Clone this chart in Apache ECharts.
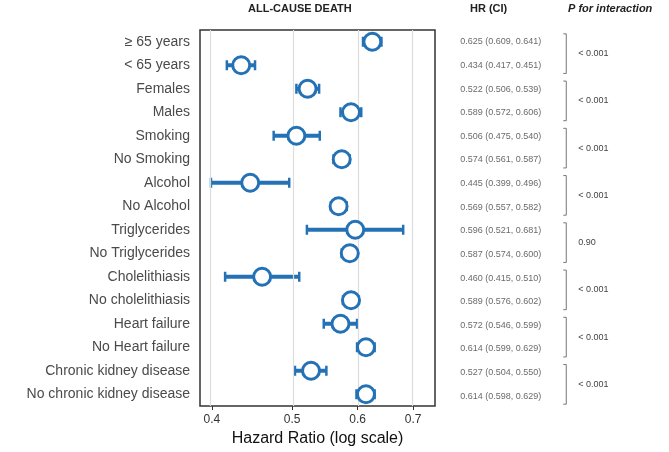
<!DOCTYPE html>
<html><head><meta charset="utf-8">
<script src="https://cdn.jsdelivr.net/npm/echarts@6/dist/echarts.min.js"></script>
<style>html,body{margin:0;padding:0;background:#fff}#c{width:669px;height:452px}</style>
</head><body><div id="c"></div>
<script>
const labels = ['≥ 65 years','< 65 years','Females','Males','Smoking','No Smoking','Alcohol','No Alcohol',
  'Triglycerides','No Triglycerides','Cholelithiasis','No cholelithiasis','Heart failure','No Heart failure',
  'Chronic kidney disease','No chronic kidney disease'];
const hr   = [0.625,0.434,0.522,0.589,0.506,0.574,0.445,0.569,0.596,0.587,0.460,0.589,0.572,0.614,0.527,0.614];
const low  = [0.609,0.417,0.506,0.572,0.475,0.561,0.399,0.557,0.521,0.574,0.415,0.576,0.546,0.599,0.504,0.598];
const high = [0.641,0.451,0.539,0.606,0.540,0.587,0.496,0.582,0.681,0.600,0.510,0.602,0.599,0.629,0.550,0.629];
const pValues = ['< 0.001','< 0.001','< 0.001','< 0.001','0.90','< 0.001','< 0.001','< 0.001'];
const ticks = [0.4,0.5,0.6,0.7];

const blue = '#2472b5';
const ln = Math.log;
const ciText = hr.map((v,i)=>v.toFixed(3)+' ('+low[i].toFixed(3)+', '+high[i].toFixed(3)+')');
const chart = echarts.init(document.getElementById('c'));

chart.setOption({
  animation:false,
  grid:[{left:200,right:234,top:30,bottom:44,show:true,borderColor:'#333',borderWidth:1.5},
        {left:455,right:0,top:30,bottom:44}],
  xAxis:[{type:'value',gridIndex:0,min:ln(0.387),max:ln(0.744),
    axisLine:{show:false},splitLine:{show:false},
    axisTick:{show:true,customValues:ticks.map(ln),length:4,lineStyle:{color:'#333'}},
    axisLabel:{customValues:ticks.map(ln),formatter:v=>String(Math.round(Math.exp(v)*10)/10),color:'#333',fontSize:12,fontFamily:'Liberation Sans'},
    name:'Hazard Ratio (log scale)',nameLocation:'middle',nameGap:25,
    nameTextStyle:{fontSize:16,color:'#111',fontFamily:'Liberation Sans'}},
    {type:'value',gridIndex:1,min:0,max:1,show:false}],
  yAxis:[{type:'category',gridIndex:0,data:labels,inverse:true,
    axisLine:{show:false},axisTick:{show:false},
    axisLabel:{color:'#4a4a4a',fontSize:14,fontFamily:'Liberation Sans',margin:10}},
    {type:'category',gridIndex:1,data:labels,inverse:true,show:false}],
  graphic:[
    {type:'text',left:248,top:3,style:{text:'ALL-CAUSE DEATH',font:'bold 11px Liberation Sans',fill:'#222'}},
    {type:'text',left:470,top:3,style:{text:'HR (CI)',font:'bold 11px Liberation Sans',fill:'#222'}},
    {type:'text',left:568,top:3,style:{text:'P for interaction',font:'italic bold 11px Liberation Sans',fill:'#222'}}
  ],
  series:[
    {type:'line',xAxisIndex:0,yAxisIndex:0,data:[],
     markLine:{silent:true,symbol:['none','none'],label:{show:false},
       lineStyle:{color:'#dddddd',type:'solid',width:1.2},
       data:ticks.map(t=>({xAxis:ln(t)}))}},
    {type:'custom',xAxisIndex:0,yAxisIndex:0,z:3,
     data:hr.map((v,i)=>[ln(low[i]),ln(high[i]),i]),
     renderItem:(p,api)=>{
       const a=api.coord([api.value(0),api.value(2)]);
       const b=api.coord([api.value(1),api.value(2)]);
       const st={stroke:blue,lineWidth:4};
       return {type:'group',children:[
         {type:'line',shape:{x1:a[0],y1:a[1],x2:b[0],y2:b[1]},style:st},
         {type:'line',shape:{x1:a[0],y1:a[1]-5,x2:a[0],y2:a[1]+5},style:{stroke:blue,lineWidth:2.5}},
         {type:'line',shape:{x1:b[0],y1:b[1]-5,x2:b[0],y2:b[1]+5},style:{stroke:blue,lineWidth:2.5}}]};
     }},
    {type:'scatter',xAxisIndex:0,yAxisIndex:0,z:5,symbol:'circle',symbolSize:17,
     itemStyle:{color:'#fff',borderColor:blue,borderWidth:3,opacity:1},
     data:hr.map((v,i)=>[ln(v),i])},
    {type:'scatter',xAxisIndex:1,yAxisIndex:1,symbolSize:0,
     data:ciText.map((t,i)=>({value:[0.02,i],label:{formatter:t}})),
     label:{show:true,position:'right',color:'#444',fontSize:9,fontFamily:'Liberation Sans',offset:[-4,0]}},
    {type:'custom',xAxisIndex:1,yAxisIndex:1,
     data:pValues.map((p,k)=>[0.5,2*k,p]),
     renderItem:(p,api)=>{
       const a=api.coord([0.52,api.value(1)]);
       const b=api.coord([0.52,api.value(1)+1]);
       const x=a[0];
       return {type:'group',children:[
         {type:'polyline',shape:{points:[[x-3,a[1]-8],[x,a[1]-8],[x,b[1]+8],[x-3,b[1]+8]]},style:{stroke:'#777',lineWidth:1,fill:null}},
         {type:'text',x:x+12,y:(a[1]+b[1])/2,style:{text:api.value(2),fill:'#444',font:'9px Liberation Sans',verticalAlign:'middle'}}]};
     }}
  ]
});
</script></body></html>
